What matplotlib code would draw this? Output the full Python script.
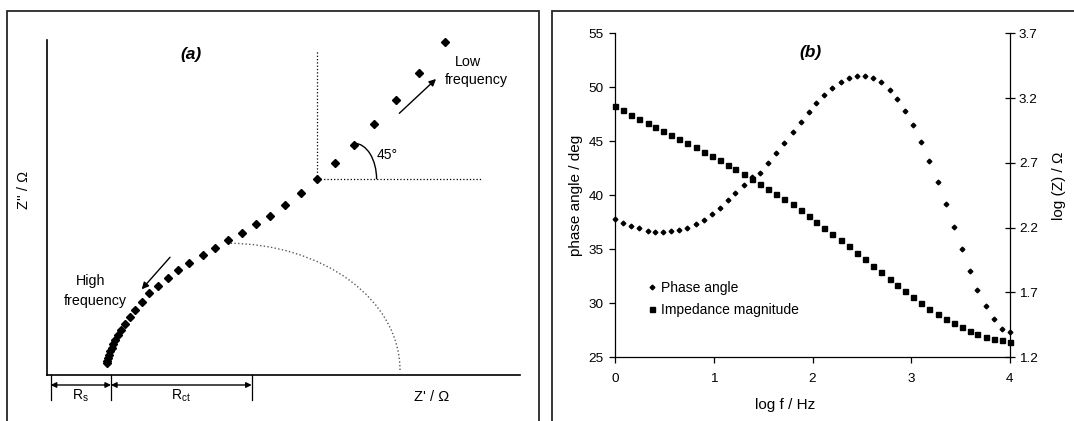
import matplotlib.pyplot as plt
from matplotlib.patches import Arc, Rectangle

plt.rcParams['font.family'] = ['Liberation Sans', 'DejaVu Sans']
plt.rcParams['mathtext.default'] = 'regular'

# (a) Nyquist plot, arbitrary units (no scale on the axes)
z_re = [397.9, 371.8, 348.7, 327.0, 306.3, 287.8, 269.8, 253.3, 237.8, 223.0,
        208.2, 194.8, 180.7, 167.9, 155.5, 142.1, 131.1, 120.7, 110.4, 101.8,
        94.3, 87.7, 82.2, 77.2, 73.2, 70.2, 67.7, 65.7, 64.2, 62.9,
        61.7, 60.7, 60.0, 59.5]
z_im = [333.3, 302.3, 275.0, 250.7, 230.0, 212.0, 195.7, 182.0, 170.0, 159.3,
        150.7, 142.3, 134.7, 127.3, 120.0, 112.3, 105.0, 97.3, 89.0, 81.7,
        73.5, 65.0, 58.0, 51.5, 45.5, 40.0, 35.5, 31.5, 27.5, 24.0,
        20.5, 17.5, 14.5, 12.0]
r_marks = [3.4, 63.7, 204.4]   # R_s from first to second, R_ct second to third

# (b) Bode plot
log_f = [0.00, 0.08, 0.16, 0.24, 0.33, 0.41, 0.49, 0.57, 0.65, 0.73,
         0.82, 0.90, 0.98, 1.06, 1.14, 1.22, 1.31, 1.39, 1.47, 1.55,
         1.63, 1.71, 1.80, 1.88, 1.96, 2.04, 2.12, 2.20, 2.29, 2.37,
         2.45, 2.53, 2.61, 2.69, 2.78, 2.86, 2.94, 3.02, 3.10, 3.18,
         3.27, 3.35, 3.43, 3.51, 3.59, 3.67, 3.76, 3.84, 3.92, 4.00]
phase = [37.80, 37.44, 37.19, 36.94, 36.73, 36.57, 36.57, 36.73, 36.79, 36.98,
         37.31, 37.72, 38.24, 38.86, 39.54, 40.25, 40.96, 41.73, 42.07, 42.99,
         43.92, 44.88, 45.86, 46.79, 47.69, 48.52, 49.29, 49.94, 50.49, 50.83,
         51.02, 51.05, 50.86, 50.46, 49.78, 48.92, 47.84, 46.51, 44.91, 43.15,
         41.20, 39.17, 37.07, 35.00, 32.99, 31.20, 29.72, 28.52, 27.65, 27.35]
log_z = [3.139, 3.106, 3.072, 3.042, 3.008, 2.977, 2.946, 2.916, 2.885, 2.851,
         2.820, 2.787, 2.756, 2.720, 2.687, 2.651, 2.612, 2.579, 2.540, 2.501,
         2.463, 2.422, 2.381, 2.334, 2.288, 2.247, 2.198, 2.152, 2.103, 2.057,
         2.005, 1.956, 1.905, 1.856, 1.805, 1.756, 1.709, 1.663, 1.619, 1.575,
         1.534, 1.496, 1.462, 1.431, 1.403, 1.380, 1.359, 1.341, 1.331, 1.316]
phase_ticks = [25, 30, 35, 40, 45, 50, 55]
z_ticks = [1.2, 1.7, 2.2, 2.7, 3.2, 3.7]

W, H = 1074, 421
fig = plt.figure(figsize=(W / 100, H / 100), dpi=100)


def box(l, t, r, b):
    return [l / W, 1 - b / H, (r - l) / W, (b - t) / H]


# outer frames around each panel
for l, r in [(7, 539.3), (552, 1100)]:
    fig.add_artist(Rectangle((l / W, -0.1), (r - l) / W, (H - 11) / H + 0.1,
                             transform=fig.transFigure, fill=False,
                             lw=1.3, ec='0.15', clip_on=False))

# ---------------- panel (a)
ax = fig.add_axes(box(47.3, 40, 520, 375))
ax.plot(z_re, z_im, 'D', ms=3.7, color='k', clip_on=False)
ax.set_xlim(0, 472.7)
ax.set_ylim(0, 335)
ax.set_xticks([])
ax.set_yticks([])
for s in ['top', 'right']:
    ax.spines[s].set_visible(False)
for s in ['left', 'bottom']:
    ax.spines[s].set_linewidth(1.2)

# 45 degree construction
ax.plot([269.8, 269.8], [195.7, 325], ls=':', lw=0.9, color='k')
ax.plot([269.8, 433.8], [195.7, 195.7], ls=':', lw=0.9, color='k')
ax.add_patch(Arc((307, 195.7), 44.6, 72, theta1=0, theta2=90, lw=1, color='k'))
ax.text(339.4, 220, '45°', fontsize=10, ha='center', va='center')

# semicircle of charge transfer
ax.add_patch(Arc((181, 5), 343.4, 253.4, theta1=0, theta2=90, ls=':', lw=1, color='0.35'))

ax.annotate('', xy=(388.7, 296), xytext=(352, 261.7),
            arrowprops=dict(arrowstyle='-|>', lw=1, color='k', mutation_scale=10,
                            shrinkA=0, shrinkB=0))
ax.text(421, 313.3, 'Low', fontsize=10.3, ha='center', va='center')
ax.text(429.4, 295, 'frequency', fontsize=10.3, ha='center', va='center')

ax.annotate('', xy=(94.4, 85.7), xytext=(122.7, 117.7),
            arrowprops=dict(arrowstyle='-|>', lw=1, color='k', mutation_scale=10,
                            shrinkA=0, shrinkB=0))
ax.text(43, 94, 'High', fontsize=10.3, ha='center', va='center')
ax.text(47.7, 74, 'frequency', fontsize=10.3, ha='center', va='center')

ax.text(143.8, 320, '(a)', fontsize=12.5, fontweight='heavy', style='italic',
        ha='center', va='center')

for xm in r_marks:
    ax.plot([xm, xm], [0, -25], color='k', lw=0.9, clip_on=False)
for x0, x1 in zip(r_marks[:-1], r_marks[1:]):
    ax.annotate('', xy=(x0, -10), xytext=(x1, -10), annotation_clip=False,
                arrowprops=dict(arrowstyle='<|-|>', lw=1, color='k',
                                mutation_scale=8, shrinkA=0, shrinkB=0))
ax.text(32.7, -21, r'R$_s$', fontsize=10, ha='center', va='center')
ax.text(134, -21, r'R$_{ct}$', fontsize=10, ha='center', va='center')

ax.set_xlabel("Z' / Ω", fontsize=10.5, va='center')
ax.xaxis.set_label_coords(0.814, -0.065)
ax.set_ylabel("Z'' / Ω", fontsize=10.5, va='center')
ax.yaxis.set_label_coords(-0.049, 0.552)

# ---------------- panel (b)
bx = fig.add_axes(box(615, 33.3, 1010, 357.3))
bz = bx.twinx()
h1, = bx.plot(log_f, phase, 'D', ms=2.4, color='k', clip_on=False, label='Phase angle')
h2, = bz.plot(log_f, log_z, 's', ms=3.6, color='k', clip_on=False,
              label='Impedance magnitude')
bx.set_xlim(0, 4)
bx.set_ylim(25, 55)
bz.set_ylim(1.2, 3.7)
bx.set_xticks([0, 1, 2, 3, 4])
bx.set_yticks(phase_ticks)
bz.set_yticks(z_ticks)
bz.set_yticklabels([f'{t:.1f}' for t in z_ticks])

for s in ['top', 'right']:
    bx.spines[s].set_visible(False)
for s in ['top', 'left', 'bottom']:
    bz.spines[s].set_visible(False)
for a in (bx, bz):
    for s in a.spines.values():
        s.set_linewidth(0.9)
bx.tick_params(axis='y', direction='out', length=4.5, width=0.9, labelsize=9.7)
bx.tick_params(axis='x', direction='out', length=4.5, width=0.9, labelsize=9.7, pad=7)
bz.tick_params(axis='y', direction='inout', length=7, width=0.9, labelsize=9.7, pad=3)

bx.set_xlabel('log f / Hz', fontsize=11, va='center')
bx.xaxis.set_label_coords(0.43, -0.147)
bx.set_ylabel('phase angle / deg', fontsize=11, va='center')
bx.yaxis.set_label_coords(-0.099, 0.5)
bz.set_ylabel('log (Z) / Ω', fontsize=11, va='center')
bz.yaxis.set_label_coords(1.124, 0.53)

bx.text(0.496, 0.94, '(b)', transform=bx.transAxes, fontsize=12.5,
        fontweight='heavy', style='italic', ha='center', va='center')

bx.legend([h1, h2], ['Phase angle', 'Impedance magnitude'], loc='upper left',
          bbox_to_anchor=(0.081, 0.236), frameon=False, fontsize=10,
          handlelength=0.7, handletextpad=0.3, labelspacing=0.6,
          borderpad=0, borderaxespad=0, numpoints=1)

fig.savefig('out.png', dpi=100)
